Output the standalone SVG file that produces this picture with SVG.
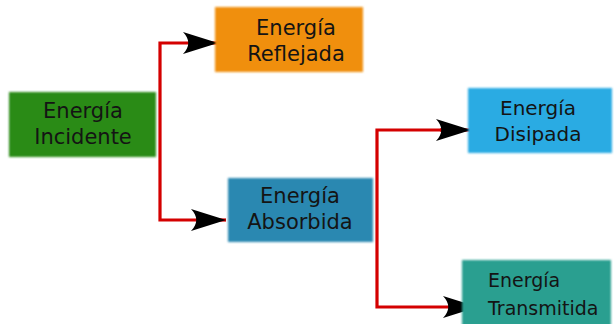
<svg xmlns="http://www.w3.org/2000/svg" width="615" height="324" viewBox="0 0 615 324">
<defs>
<style>
.box{filter:url(#soft)}
.t{font-family:"DejaVu Sans","Liberation Sans",sans-serif;font-size:21px;fill:#141414;text-anchor:middle}
.c{fill:none;stroke:#d40000;stroke-width:3.2}
</style>
<filter id="soft" x="-10%" y="-20%" width="120%" height="140%"><feGaussianBlur stdDeviation="1.3"/></filter>
<marker id="ah" markerUnits="userSpaceOnUse" markerWidth="40" markerHeight="26" viewBox="-36 -13 40 26" refX="0" refY="0" orient="auto">
<path d="M0,0 L-35,-11 C-28,-4 -28,4 -35,11 Z" fill="#000"/>
</marker>
</defs>
<rect width="615" height="324" fill="#fff"/>
<g id="connectors">
<path class="c" d="M200,43 H160 V220 H205"/>
<path class="c" d="M190,43 H218" marker-end="url(#ah)"/>
<path class="c" d="M200,220 H226" marker-end="url(#ah)"/>
<path class="c" d="M450,130 H377 V307 H455"/>
<path class="c" d="M440,130 H471" marker-end="url(#ah)"/>
<path class="c" d="M450,307 H478" marker-end="url(#ah)"/>
</g>
<g id="incidente">
<rect class="box" x="9" y="92" width="147" height="65" fill="#2b8b15"/>
<text class="t" x="83" y="118">Energía</text>
<text class="t" x="83" y="144">Incidente</text>
</g>
<g id="reflejada">
<rect class="box" x="215" y="7" width="148" height="65" fill="#f08f10"/>
<text class="t" x="296" y="35">Energía</text>
<text class="t" x="296" y="61">Reflejada</text>
</g>
<g id="absorbida">
<rect class="box" x="228" y="178" width="145" height="64" fill="#2b88b1"/>
<text class="t" x="300" y="203">Energía</text>
<text class="t" x="300" y="229">Absorbida</text>
</g>
<g id="disipada">
<rect class="box" x="468" y="88" width="144" height="65" fill="#2aabe3"/>
<text class="t" x="538" y="115" style="font-size:20px">Energía</text>
<text class="t" x="538" y="141" style="font-size:20px">Disipada</text>
</g>
<g id="transmitida">
<rect class="box" x="462" y="260" width="149" height="66" fill="#2a9f90"/>
<text class="t" x="488" y="287" style="text-anchor:start;font-size:19px">Energía</text>
<text class="t" x="488" y="315" style="text-anchor:start;font-size:19px">Transmitida</text>
</g>
</svg>
